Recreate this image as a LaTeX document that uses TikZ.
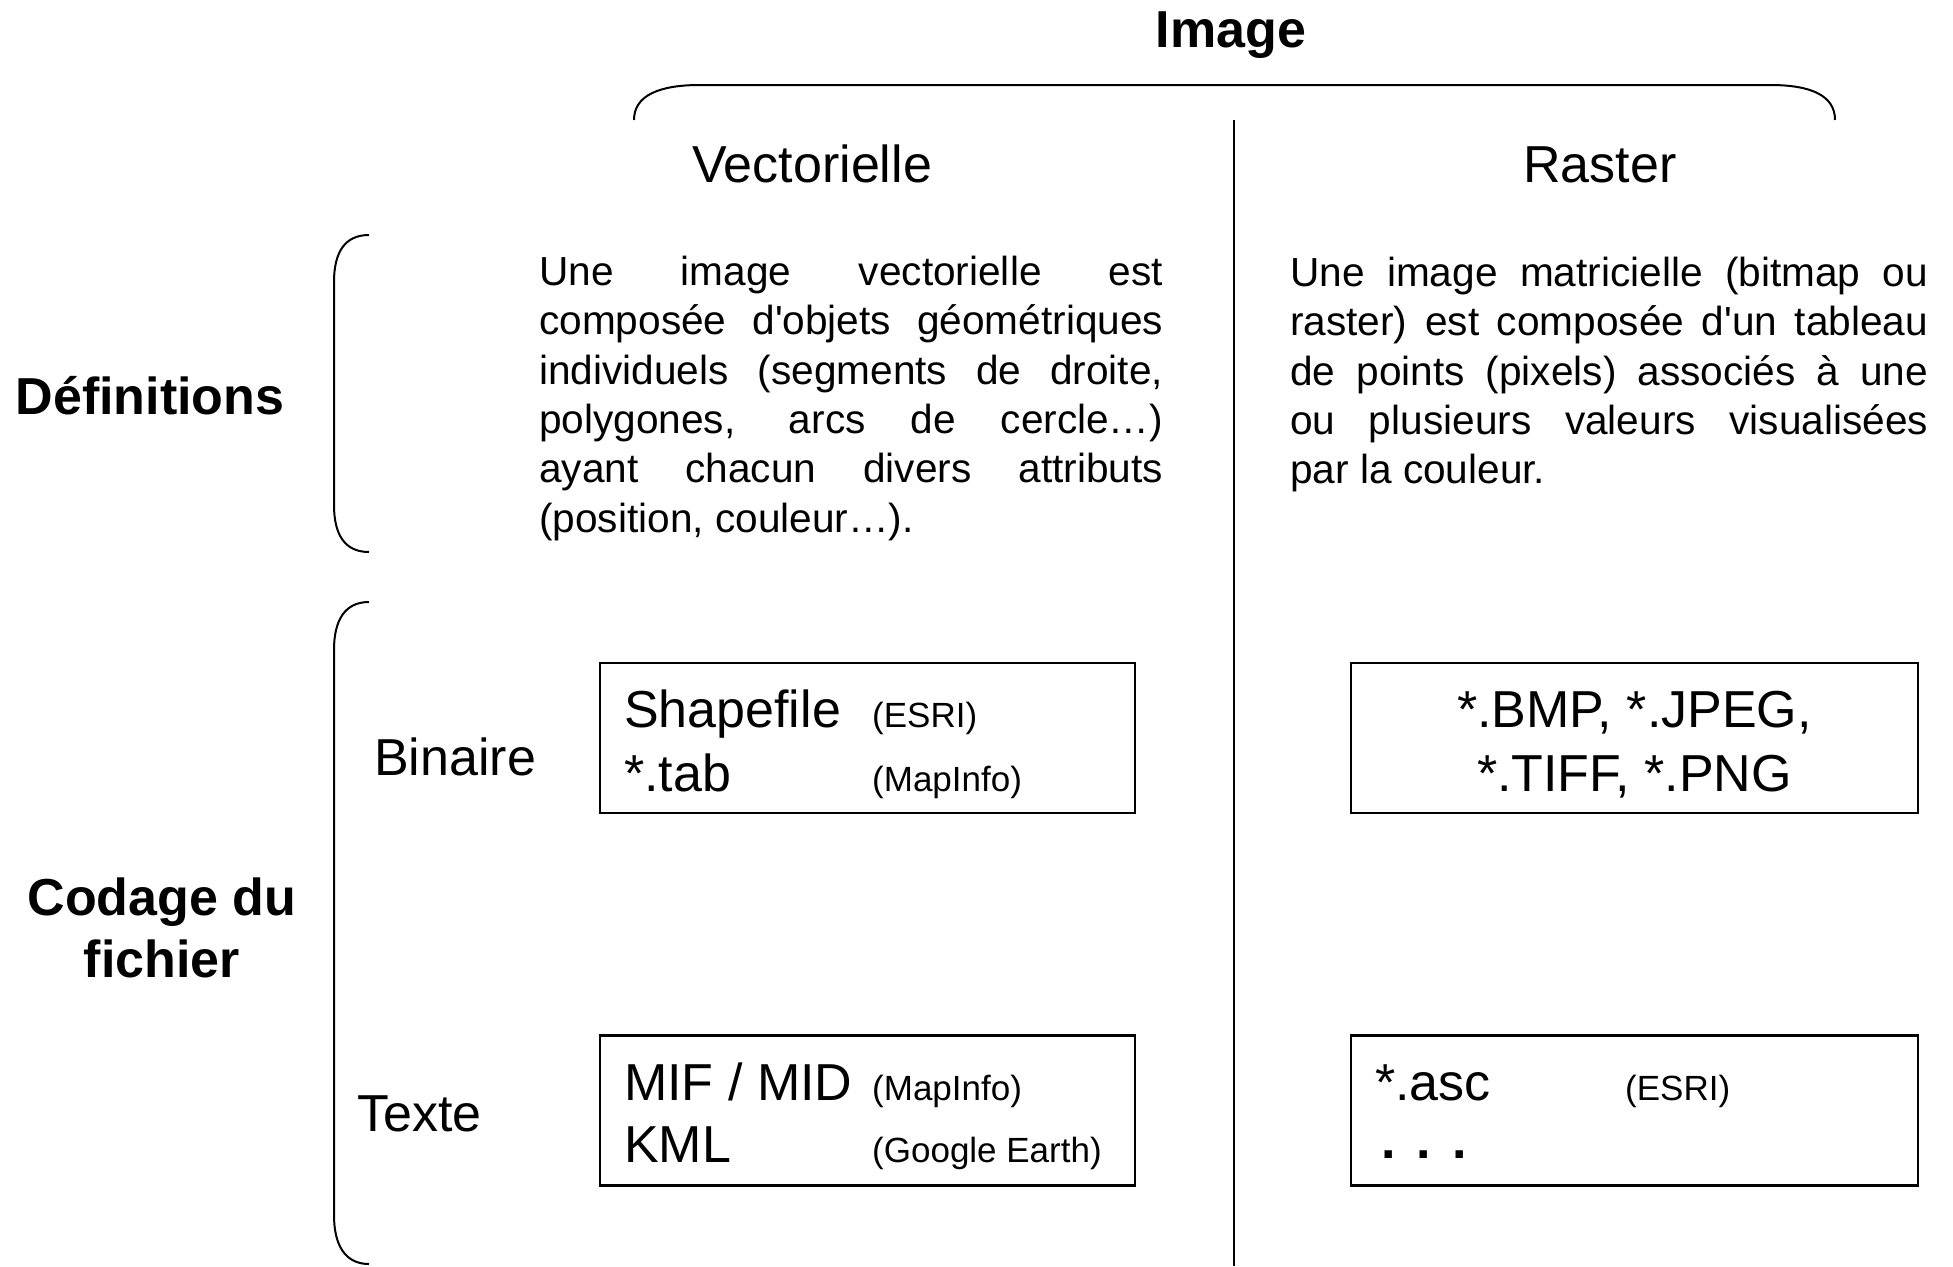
\documentclass[tikz,border=0pt]{standalone}
\usepackage{fontspec}
\setmainfont{Liberation Sans}[Ligatures=TeXOff]
\usepackage{tikz}
\hyphenpenalty=10000
\tolerance=10000

\begin{document}
\begin{tikzpicture}[x=1pt,y=-1pt,
  big/.style={font=\fontsize{52}{62}\selectfont, inner sep=0pt},
  small/.style={font=\fontsize{35}{42}\selectfont, inner sep=0pt},
  head/.style={font=\bfseries\fontsize{52}{62}\selectfont, inner sep=0pt},
  para/.style={font=\fontsize{40.6}{49.3}\selectfont, inner sep=0pt, align=justify, anchor=north west},
  fbox/.style={draw, line width=2.5pt, minimum height=150pt, inner sep=0pt},
  bracket/.style={line width=2pt}]
\useasboundingbox (0,0) rectangle (1953,1266);
% titles
\node[head, anchor=base] (image) at (1231,47) {Image};
\node[big, anchor=base] (vect) at (812,182) {Vectorielle};
\node[big, anchor=base] (rast) at (1600,182) {Raster};
\node[head, anchor=base] (defs) at (150,414) {Définitions};
\node[head, anchor=base] (codage) at (162,915) {Codage du};
\node[head, anchor=base] (fichier) at (162,977) {fichier};
\node[big, anchor=base west] (binaire) at (374,775) {Binaire};
\node[big, anchor=base west] (texte) at (357,1131) {Texte};
% braces and divider
\draw[bracket] (634,120) .. controls (634,95) and (660,85) .. (700,85) -- (1770,85)
  .. controls (1810,85) and (1835,95) .. (1835,120);
\coordinate (dtop) at (1234,120);
\coordinate (dbot) at (1234,1266);
\draw[bracket] (dtop) -- (dbot);
\draw[bracket] (369,235) .. controls (345,235) and (334,252) .. (334,282) -- (334,505)
  .. controls (334,535) and (345,552) .. (369,552);
\draw[bracket] (369,602) .. controls (345,602) and (334,620) .. (334,650) -- (334,1215)
  .. controls (334,1245) and (345,1264) .. (369,1264);
% definitions
\node[para, text width=624pt] (vdef) at (539,256) {Une image vectorielle est\linebreak
composée d'objets géométriques\linebreak individuels (segments de droite,\linebreak
polygones, arcs de cercle…)\linebreak ayant chacun divers attributs\linebreak
(position, couleur…).};
\node[para, text width=638pt] (rdef) at (1290,257) {Une image matricielle (bitmap ou\linebreak
raster) est composée d'un tableau\linebreak de points (pixels) associés à une\linebreak
ou plusieurs valeurs visualisées\linebreak par la couleur.};
% formats
\node[fbox, minimum width=535pt] (vbin) at (867.5,738) {};
\node[fbox, minimum width=567pt] (rbin) at (1634.5,738) {};
\node[fbox, minimum width=535pt] (vtxt) at (867.5,1110.5) {};
\node[fbox, minimum width=567pt] (rtxt) at (1634.5,1110.5) {};
\node[big, anchor=base west] (shp) at (624,727) {Shapefile};
\node[small, anchor=base west] (shpsrc) at (872,727) {(ESRI)};
\node[big, anchor=base west] (tab) at (624,791) {*.tab};
\node[small, anchor=base west] (tabsrc) at (872,791) {(MapInfo)};
\node[big, anchor=base] (img1) at (1634.5,727) {*.BMP, *.JPEG,};
\node[big, anchor=base] (img2) at (1634.5,791) {*.TIFF, *.PNG};
\node[big, anchor=base west] (mif) at (624,1100) {MIF / MID};
\node[small, anchor=base west] (mifsrc) at (872,1100) {(MapInfo)};
\node[big, anchor=base west] (kml) at (624,1162) {KML};
\node[small, anchor=base west] (kmlsrc) at (872,1162) {(Google Earth)};
\node[big, anchor=base west] (asc) at (1375,1100) {*.asc};
\node[small, anchor=base west] (ascsrc) at (1625,1100) {(ESRI)};
\node[big, anchor=base west] (etc) at (1381,1158) {\bfseries .\kern21pt.\kern21pt.};
\end{tikzpicture}
\end{document}
